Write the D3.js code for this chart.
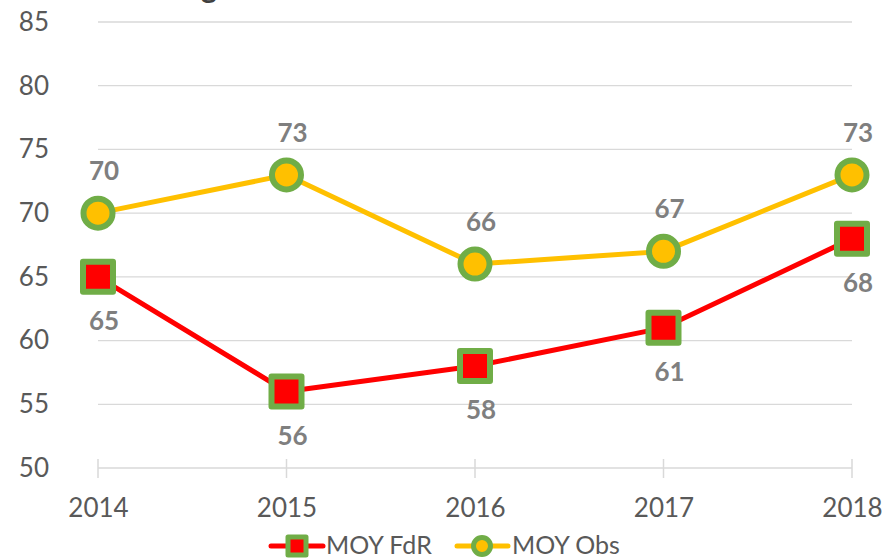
<!DOCTYPE html>
<html>
<head>
<meta charset="utf-8">
<script src="https://cdn.jsdelivr.net/npm/d3@7"></script>
<style>
  html, body { margin: 0; padding: 0; background: #fff; }
  svg { display: block; font-family: Lato, "Open Sans", sans-serif; }
</style>
</head>
<body>
<svg id="chart" width="887" height="560"></svg>
<script>
// Years on the category axis
const years = ["2014", "2015", "2016", "2017", "2018"];
// Series values
const moyFdR = [65, 56, 58, 61, 68];
const moyObs = [70, 73, 66, 67, 73];
// Value axis ticks
const yTicks = [50, 55, 60, 65, 70, 75, 80, 85];
const seriesNames = ["MOY FdR", "MOY Obs"];

const svg = d3.select("#chart");

const x = d3.scalePoint().domain(years).range([98, 852]);
const y = d3.scaleLinear().domain([50, 85]).range([468, 22]);

const grid = "#d9d9d9";
const textCol = "#595959";
const labelCol = "#7f7f7f";
const green = "#70ad47";
const fontFam = "Lato, 'Open Sans', sans-serif";

// Title (mostly above the visible area)
svg.append("text")
  .attr("x", 209).attr("y", -2)
  .attr("text-anchor", "middle")
  .attr("font-size", 30).attr("font-weight", 700)
  .attr("fill", "#404040")
  .text("g");

// Horizontal gridlines
svg.append("g").selectAll("line").data(yTicks.filter(d => d > 50)).join("line")
  .attr("x1", 98).attr("x2", 852)
  .attr("y1", d => y(d)).attr("y2", d => y(d))
  .attr("stroke", grid).attr("stroke-width", 1.3);

// Y axis labels
const yAxis = d3.axisLeft(y).tickValues(yTicks).tickSize(0).tickPadding(0);
const gy = svg.append("g").attr("transform", "translate(49,0)").call(yAxis);
gy.select(".domain").remove();
gy.selectAll("text")
  .attr("font-size", 26).attr("fill", textCol)
  .attr("font-family", fontFam);

// X axis with crossing tick marks
const xAxis = d3.axisBottom(x).tickSize(0).tickPadding(0);
const gx = svg.append("g").attr("transform", `translate(0,${y(50)})`).call(xAxis);
gx.select(".domain").remove();
gx.selectAll("text")
  .attr("font-size", 26).attr("fill", textCol).attr("dy", 0).attr("y", 49)
  .attr("font-family", fontFam);
svg.append("line")
  .attr("x1", 98).attr("x2", 852).attr("y1", y(50)).attr("y2", y(50))
  .attr("stroke", grid).attr("stroke-width", 1.5);
svg.append("g").selectAll("line").data(years).join("line")
  .attr("x1", d => x(d)).attr("x2", d => x(d))
  .attr("y1", y(50) - 9).attr("y2", y(50) + 10)
  .attr("stroke", grid).attr("stroke-width", 1.5);

const line = d3.line().x((d, i) => x(years[i])).y(d => y(d));

// Lines
svg.append("path").datum(moyObs).attr("d", line)
  .attr("fill", "none").attr("stroke", "#ffc000").attr("stroke-width", 5)
  .attr("stroke-linejoin", "round");
svg.append("path").datum(moyFdR).attr("d", line)
  .attr("fill", "none").attr("stroke", "#ff0000").attr("stroke-width", 5)
  .attr("stroke-linejoin", "round");

// Markers
svg.append("g").selectAll("circle").data(moyObs).join("circle")
  .attr("cx", (d, i) => x(years[i])).attr("cy", d => y(d)).attr("r", 14.5)
  .attr("fill", "#ffc000").attr("stroke", green).attr("stroke-width", 6);
svg.append("g").selectAll("rect").data(moyFdR).join("rect")
  .attr("x", (d, i) => x(years[i]) - 15).attr("y", d => y(d) - 15)
  .attr("width", 30).attr("height", 30)
  .attr("fill", "#ff0000").attr("stroke", green).attr("stroke-width", 6)
  .attr("stroke-linejoin", "round");

// Data labels
svg.append("g").selectAll("text").data(moyObs).join("text")
  .attr("x", (d, i) => x(years[i]) + 6).attr("y", d => y(d) - 33)
  .attr("text-anchor", "middle").attr("font-size", 26).attr("font-weight", 700)
  .attr("fill", labelCol).text(d => d);
svg.append("g").selectAll("text").data(moyFdR).join("text")
  .attr("x", (d, i) => x(years[i]) + 6).attr("y", d => y(d) + 53)
  .attr("text-anchor", "middle").attr("font-size", 26).attr("font-weight", 700)
  .attr("fill", labelCol).text(d => d);

// Legend
const legY = 546;
const leg = svg.append("g");
// MOY FdR
leg.append("line").attr("x1", 271).attr("x2", 323).attr("y1", legY).attr("y2", legY)
  .attr("stroke", "#ff0000").attr("stroke-width", 5).attr("stroke-linecap", "round");
leg.append("rect").attr("x", 297 - 9).attr("y", legY - 9).attr("width", 18).attr("height", 18)
  .attr("fill", "#ff0000").attr("stroke", green).attr("stroke-width", 5)
  .attr("stroke-linejoin", "round");
leg.append("text").attr("x", 326).attr("y", legY + 8)
  .attr("font-size", 25).attr("fill", textCol).text(seriesNames[0]);
// MOY Obs
leg.append("line").attr("x1", 457).attr("x2", 508).attr("y1", legY).attr("y2", legY)
  .attr("stroke", "#ffc000").attr("stroke-width", 5).attr("stroke-linecap", "round");
leg.append("circle").attr("cx", 482).attr("cy", legY).attr("r", 8.5)
  .attr("fill", "#ffc000").attr("stroke", green).attr("stroke-width", 5);
leg.append("text").attr("x", 512).attr("y", legY + 8)
  .attr("font-size", 25).attr("fill", textCol).text(seriesNames[1]);
</script>
</body>
</html>
